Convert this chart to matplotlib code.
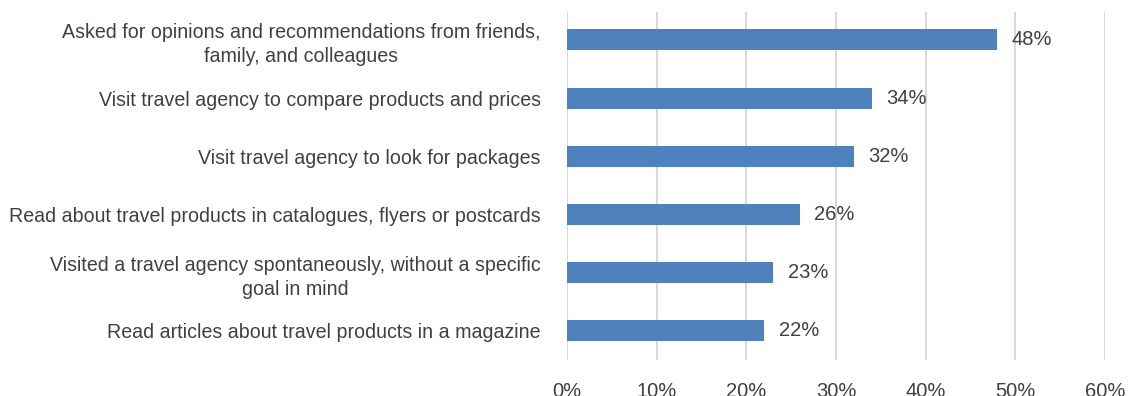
import matplotlib.pyplot as plt
from matplotlib.ticker import PercentFormatter

plt.rcParams['font.family'] = ['Liberation Sans', 'DejaVu Sans']

categories = [
    "Asked for opinions and recommendations from friends,\nfamily, and colleagues",
    "Visit travel agency to compare products and prices",
    "Visit travel agency to look for packages",
    "Read about travel products in catalogues, flyers or postcards",
    "Visited a travel agency spontaneously, without a specific\ngoal in mind",
    "Read articles about travel products in a magazine",
]
shares = [48, 34, 32, 26, 23, 22]
x_ticks = [0, 10, 20, 30, 40, 50, 60]

text_color = '#404040'
bar_color = '#4f81bd'

fig = plt.figure(figsize=(11.31, 3.96), dpi=100)
ax = fig.add_axes([0.5013, 0.0909, 0.4757, 0.8788])

pos = list(range(len(categories)))
ax.barh(pos, shares, height=0.36, color=bar_color, zorder=3)

# percentage labels just past the end of each bar
for y, v in zip(pos, shares):
    ax.text(v + 1.6, y, f"{v}%", va='center', ha='left',
            fontsize=14.5, color=text_color)

ax.set_xlim(0, 60)
ax.set_ylim(len(categories) - 0.5, -0.48)
ax.set_xticks(x_ticks)
ax.xaxis.set_major_formatter(PercentFormatter(decimals=0))
ax.set_yticks(pos)
ax.set_yticklabels(categories, multialignment='center', fontsize=14.1,
                   linespacing=1.35)

ax.grid(axis='x', color='#d9d9d9', linewidth=1.5, zorder=0)
for s in ax.spines.values():
    s.set_visible(False)
ax.tick_params(axis='both', length=0, labelcolor=text_color)
ax.tick_params(axis='x', labelsize=14.5, pad=16)
ax.tick_params(axis='y', pad=19)

fig.savefig('out.png', dpi=100)
